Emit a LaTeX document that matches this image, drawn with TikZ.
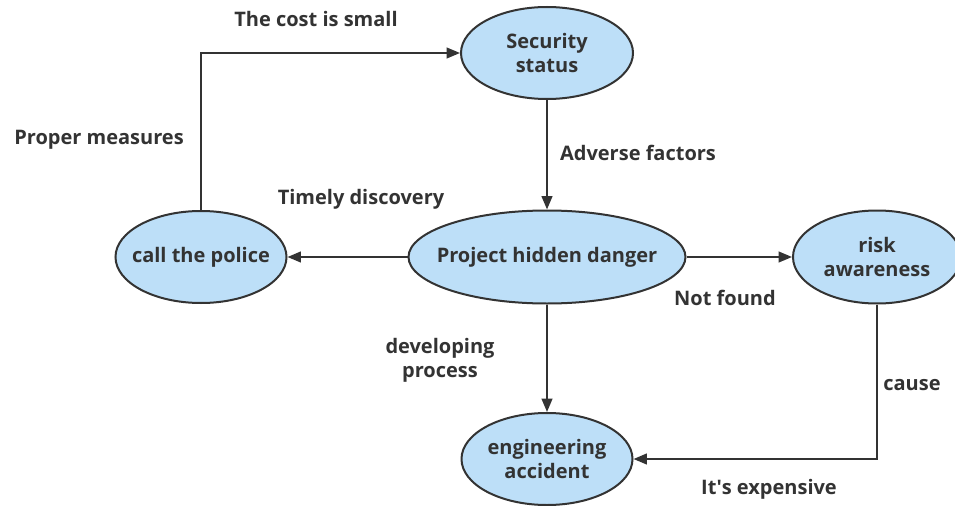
\documentclass[tikz,border=0pt]{standalone}
\usepackage{fontspec}
\setmainfont{Open Sans}
\usetikzlibrary{shapes.geometric,arrows.meta}
\definecolor{ink}{HTML}{333333}
\definecolor{bubble}{HTML}{BDDFF8}
\begin{document}
\begin{tikzpicture}[x=0.75pt,y=-0.75pt,
  state/.style={ellipse,draw=ink,fill=bubble,line width=1.5pt,inner sep=-40pt,
    text=ink,font=\fontsize{15}{18}\selectfont\bfseries,align=center},
  lbl/.style={text=ink,font=\fontsize{15}{18}\selectfont\bfseries,align=center,inner sep=0pt},
  flow/.style={draw=ink,line width=1.5pt,-{Triangle[length=10pt,width=8pt]}}]
\fill[white] (0,0) rectangle (955,506);
\useasboundingbox (0,0) rectangle (955,506);

% states
\node[state,minimum width=129pt,minimum height=69pt] (sec) at (547,53) {Security\\status};
\node[state,minimum width=128.25pt,minimum height=69pt] (police) at (201,257) {call the police};
\node[state,minimum width=207.75pt,minimum height=69.75pt] (phd) at (547,257) {Project hidden danger};
\node[state,minimum width=126pt,minimum height=69.75pt] (risk) at (877,257) {risk\\awareness};
\node[state,minimum width=128.25pt,minimum height=69pt] (eng) at (547,459) {engineering\\accident};

% transitions
\draw[flow] (sec.south) -- (phd.north);
\draw[flow] (phd.west) -- (police.east);
\draw[flow] (phd.east) -- (risk.west);
\draw[flow] (phd.south) -- (eng.north);
\draw[flow] (police.north) |- (sec.west);
\draw[flow] (risk.south) |- (eng.east);

% labels
\node[lbl] (l1) at (316,19) {The cost is small};
\node[lbl] (l2) at (99,140) {Proper measures};
\node[lbl] (l3) at (361,199) {Timely discovery};
\node[lbl] (l4) at (638,153) {Adverse factors};
\node[lbl] (l5) at (725,298) {Not found};
\node[lbl] (l6) at (440,360) {developing\\process};
\node[lbl] (l7) at (912,385) {cause};
\node[lbl] (l8) at (769,489) {It\textquotesingle s expensive};
\end{tikzpicture}
\end{document}
